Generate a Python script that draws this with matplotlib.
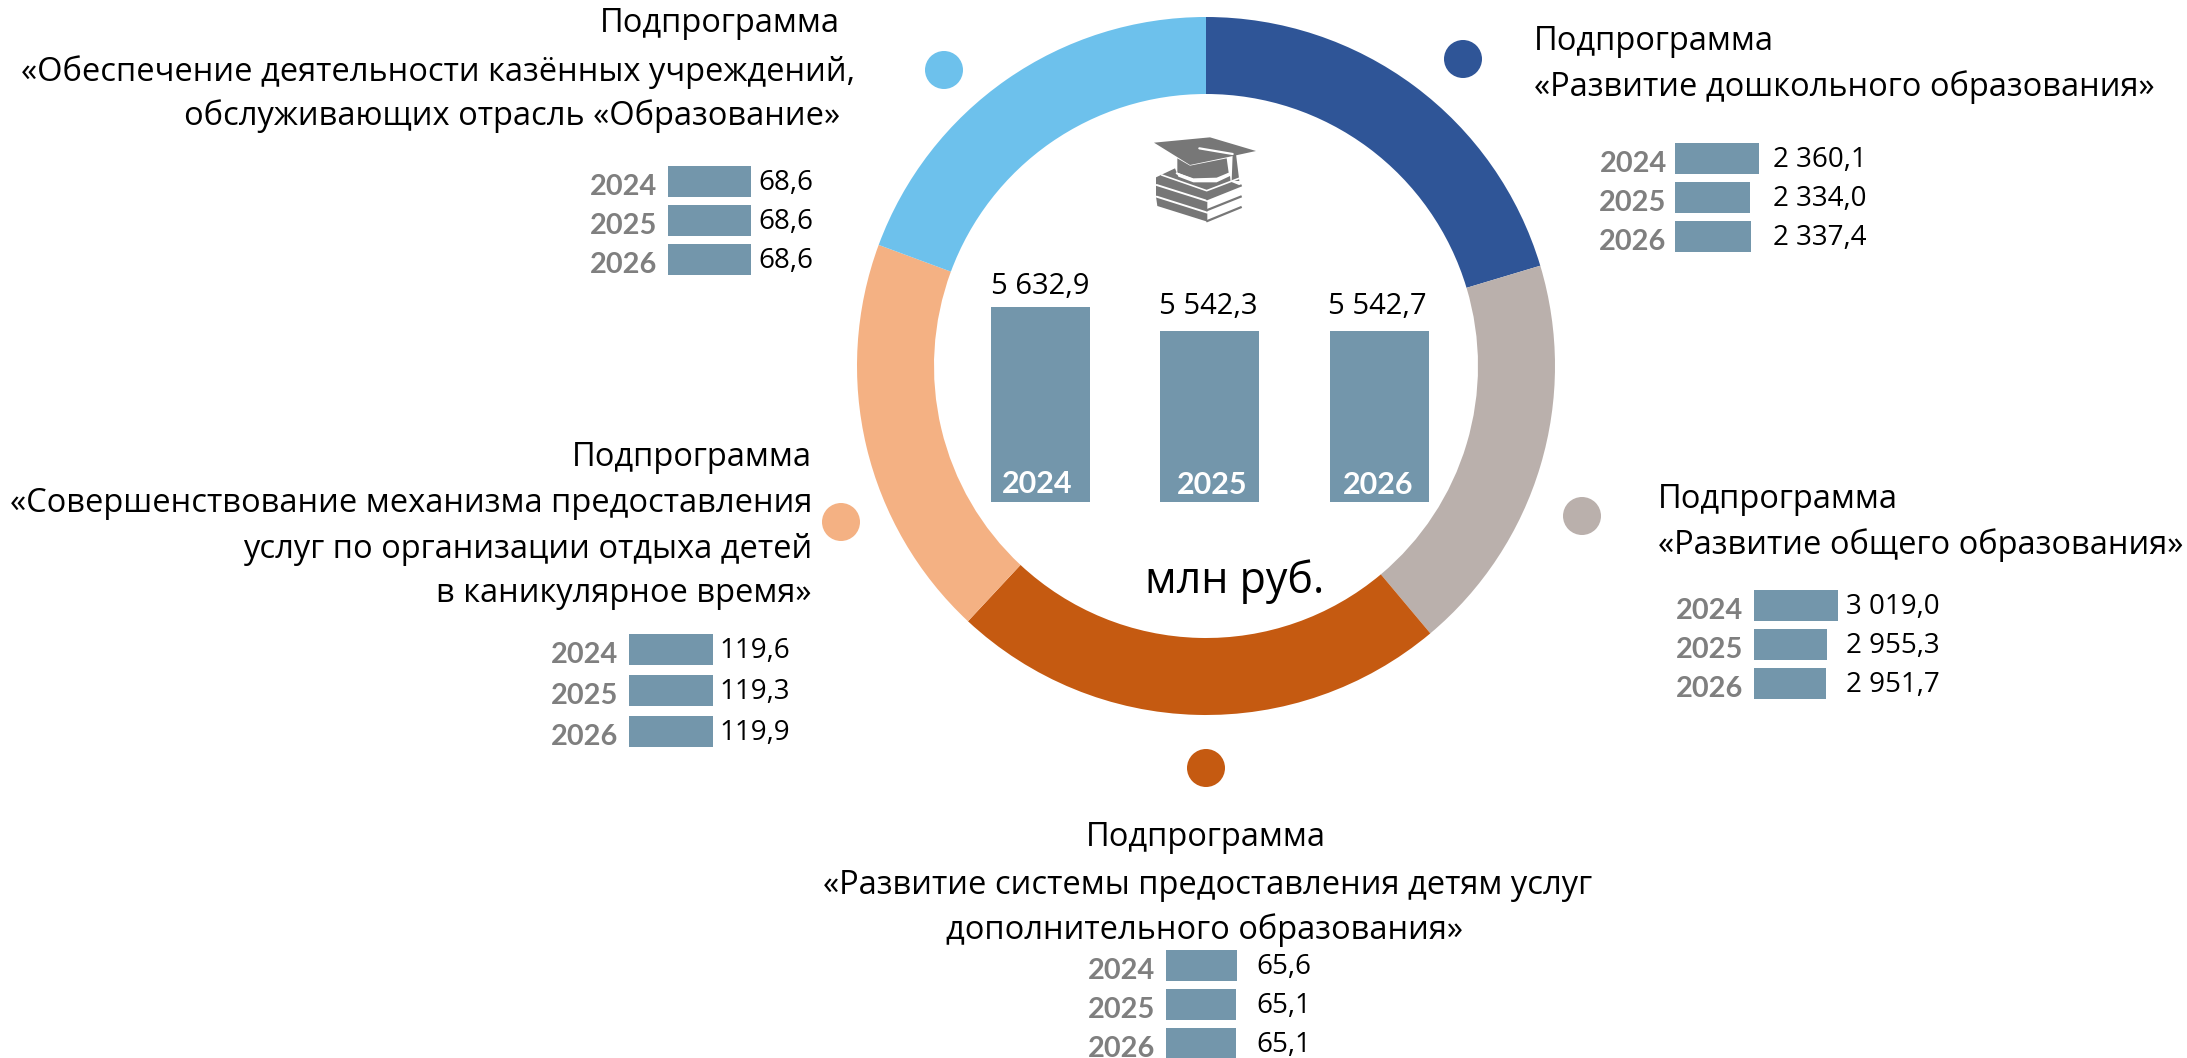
#!/usr/bin/env python3
"""Budget of the education programme: ring of subprograms with small bar panels."""

import matplotlib

matplotlib.use("Agg")
import matplotlib.pyplot as plt
from matplotlib.patches import Circle, Polygon
from matplotlib.transforms import ScaledTranslation

W, H = 2187, 1058

YEARS = ["2024", "2025", "2026"]

# Ring arcs in degrees.
RING_SHARES = [73.3, 66.7, 83.0, 67.3, 69.7]
RING_COLORS = ["#2F5597", "#BAB0AC", "#C55A11", "#F4B183", "#6DC1EC"]

TOTALS = [5632.9, 5542.3, 5542.7]
PRESCHOOL = [2360.1, 2334.0, 2337.4]
GENERAL = [3019.0, 2955.3, 2951.7]
EXTRA = [65.6, 65.1, 65.1]
HOLIDAY = [119.6, 119.3, 119.9]
STATE_INST = [68.6, 68.6, 68.6]

BAR = "#7396AB"
GREY = "#7F7F7F"
FONT = "Open Sans"
YEAR_FONT = "Lato"

plt.rcParams["font.family"] = [FONT, "DejaVu Sans"]

fig = plt.figure(figsize=(W / 100, H / 100), dpi=100, facecolor="white")


def px_axes(x0, y0, x1, y1, **kwargs):
    # axes placed by picture pixels, y measured from the top
    return fig.add_axes([x0 / W, 1 - y1 / H, (x1 - x0) / W, (y1 - y0) / H], **kwargs)


def fmt(v):
    return f"{v:,.1f}".replace(",", " ").replace(".", ",")


# ring
ring = px_axes(1206 - 349, 366 - 349, 1206 + 349, 366 + 349)
ring.pie(RING_SHARES, colors=RING_COLORS, startangle=90, counterclock=False,
         radius=1, wedgeprops={"width": 77 / 349, "linewidth": 0})
ring.set_xlim(-1, 1)
ring.set_ylim(-1, 1)

# central columns
main = px_axes(955, 250, 1465, 502)
main.bar(range(3), TOTALS, width=0.584, color=BAR)
main.set_xlim(-0.504, 2.505)
main.set_ylim(4898, 4898 + 252 / 0.2655)
main.axis("off")


def panel(x0, y0, values, origin, scale, label_dx, gap=39, width=330, pad=8):
    ax = px_axes(x0, y0 - 4, x0 + width, y0 - 4 + 3 * gap)
    ax.barh(range(3), values, height=31 / gap, color=BAR)
    ax.set_xlim(origin, origin + width / scale)
    ax.set_ylim(2.5, -0.5)
    ax.patch.set_alpha(0)
    for s in ax.spines.values():
        s.set_visible(False)
    ax.set_xticks([])
    ax.set_yticks(range(3), YEARS)
    ax.tick_params(axis="y", length=0, pad=pad)
    shift = ScaledTranslation(0, -2 / 72, fig.dpi_scale_trans)
    for t in ax.get_yticklabels():
        t.set(family=YEAR_FONT, fontweight="bold", fontsize=20.8, color=GREY)
        t.set_transform(t.get_transform() + shift)
    for i, v in enumerate(values):
        ax.text(origin + label_dx / scale, i + 0.04, fmt(v), va="center", ha="left",
                fontsize=20, color="black")


panel(1675, 143, PRESCHOOL, 2117, 0.345, 98, pad=6)
panel(1754, 590, GENERAL, 2533, 0.173, 92)
panel(1166, 950, EXTRA, 0, 1.08, 90)
panel(629, 633, HOLIDAY, 0, 0.7, 90, gap=41)
panel(668, 166, STATE_INST, 0, 1.21, 90)

# overlay in picture pixels for dots, captions and the icon
ov = fig.add_axes([0, 0, 1, 1])
ov.set_xlim(0, W)
ov.set_ylim(H, 0)
ov.axis("off")
ov.patch.set_alpha(0)

for (cx, cy), c in zip([(1463, 59), (1582, 516), (1206, 768), (841, 522), (944, 70)], RING_COLORS):
    ov.add_patch(Circle((cx, cy), 19, facecolor=c, edgecolor="none"))

CAP = 23.5


def cap(x, y, s, ha):
    ov.text(x, y, s, ha=ha, va="center", fontsize=CAP, color="black")


cap(1534, 42, "Подпрограмма", "left")
cap(1534, 87, "«Развитие дошкольного образования»", "left")

cap(840, 24, "Подпрограмма", "right")
cap(855, 72, "«Обеспечение деятельности казённых учреждений,", "right")
cap(840, 116, "обслуживающих отрасль «Образование»", "right")

cap(812, 458, "Подпрограмма", "right")
cap(812, 504, "«Совершенствование механизма предоставления", "right")
cap(812, 549, "услуг по организации отдыха детей", "right")
cap(812, 593, "в каникулярное время»", "right")

cap(1658, 500, "Подпрограмма", "left")
cap(1658, 545, "«Развитие общего образования»", "left")

cap(1206, 837, "Подпрограмма", "center")
cap(1208, 885, "«Развитие системы предоставления детям услуг", "center")
cap(1204, 930, "дополнительного образования»", "center")

ov.text(1235, 582, "млн руб.", ha="center", va="center", fontsize=31, color="black")

for x, y, v in zip([1040, 1208, 1377], [287, 306, 306], TOTALS):
    ov.text(x, y, fmt(v), ha="center", va="center", fontsize=21, color="black")
for x, y, s in zip([1037, 1212, 1378], [484, 485, 485], YEARS):
    ov.text(x, y, s, ha="center", va="center", family=YEAR_FONT, fontweight="bold",
            fontsize=22, color="white")


# graduation cap on books
def zpt(pts):
    return [(1130 + x / 3, 120 + y / 3) for x, y in pts]


ICON = "#777777"
for pts in [
    [(78, 172), (135, 145), (145, 170), (190, 187), (260, 187), (300, 168), (302, 185),
     (332, 197), (232, 237), (232, 305), (82, 258), (78, 230), (78, 200)],
    [(142, 115), (180, 137), (290, 115), (296, 158), (260, 173), (190, 175), (142, 158)],
    [(72, 68), (240, 52), (378, 93), (290, 112), (180, 135)],
    [(308, 102), (318, 102), (328, 183), (305, 183)],
]:
    ov.add_patch(Polygon(zpt(pts), closed=True, facecolor=ICON, edgecolor="none"))
for pts, lw in [
    ([(208, 85), (308, 102)], 1.6),
    ([(140, 160), (190, 180), (260, 180), (298, 162)], 1.4),
    ([(95, 165), (230, 212), (335, 172)], 1.2),
    ([(80, 195), (232, 243)], 1.4),
    ([(80, 230), (232, 278)], 1.4),
]:
    xs, ys = zip(*zpt(pts))
    ov.plot(xs, ys, color="white", lw=lw, solid_capstyle="round")
for pts in [
    [(232, 237), (332, 197)],
    [(232, 270), (332, 230)],
    [(232, 303), (332, 262)],
]:
    xs, ys = zip(*zpt(pts))
    ov.plot(xs, ys, color=ICON, lw=1.6)

fig.savefig("out.png", dpi=100)
